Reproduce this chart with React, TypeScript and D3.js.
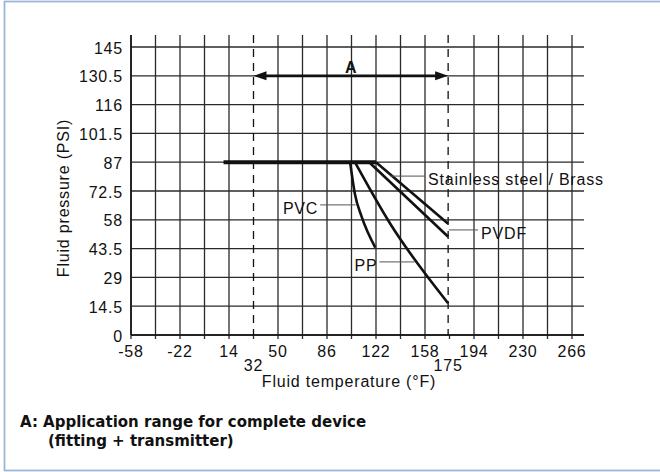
import * as d3 from "d3";

// temperature (°F) / pressure (PSI) values
const tempTicks = [-58, -22, 14, 50, 86, 122, 158, 194, 230, 266];
const rangeTicks = [32, 175];
const gridTemps = [-58, -40, -22, -4, 14, 32, 50, 68, 86, 104, 122, 140, 158, 176, 194, 212, 230, 248, 266];
const pressureTicks = [0, 14.5, 29, 43.5, 58, 72.5, 87, 101.5, 116, 130.5, 145];

interface Pt {
  t: number;
  p: number;
}

const maxPressure: Pt[] = [{ t: 10, p: 87 }, { t: 122, p: 87 }];
const pvc: Pt[] = [{ t: 103, p: 87 }, { t: 106.5, p: 71 }, { t: 111.5, p: 59.5 }, { t: 121.5, p: 44 }];
const pp: Pt[] = [{ t: 106.5, p: 87 }, { t: 132, p: 56.5 }, { t: 175, p: 16 }];
const steel: Pt[] = [{ t: 122, p: 87 }, { t: 175, p: 56 }];
const pvdf: Pt[] = [{ t: 117, p: 87 }, { t: 175, p: 49.5 }];

// label leaders: [from temp, to temp, at pressure]
const labels = [
  { text: "PVC", t0: 81, t1: 107, p: 65.5, anchor: "end" },
  { text: "PP", t0: 124.5, t1: 150.5, p: 36.8, anchor: "end" },
  { text: "Stainless steel / Brass", t0: 132.5, t1: 158, p: 80, anchor: "start" },
  { text: "PVDF", t0: 175.5, t1: 197, p: 52.9, anchor: "start" },
];

const rangePressure = 130.5;

export default function App() {
  const width = 660;
  const height = 472;
  const x = d3.scaleLinear().domain([-58, 266]).range([131, 572]);
  const y = d3.scaleLinear().domain([0, 145]).range([335, 47]);
  const top = 35;
  const right = 584;

  const line = d3
    .line<Pt>()
    .x((d) => x(d.t))
    .y((d) => y(d.p))
    .curve(d3.curveMonotoneX);

  const font = "'Liberation Sans', Arial, sans-serif";
  const textStyle = { fontFamily: font, fontSize: 16, letterSpacing: 0.8, fill: "#111" };
  const gridColor = "#2a2a2a";

  return (
    <svg
      width={width}
      height={height}
      style={{ position: "absolute", left: 0, top: 0, display: "block", background: "#fff" }}
    >
      <rect x={4.5} y={1.5} width={700} height={469} fill="#fff" stroke="#9fb5d6" strokeWidth={1.8} />

      {/* grid */}
      {gridTemps
        .filter((t) => !rangeTicks.some((r) => Math.abs(r - t) < 2))
        .map((t) => (
          <line key={"v" + t} x1={x(t)} x2={x(t)} y1={top} y2={y(0)} stroke={gridColor} strokeWidth={1.3} />
        ))}
      {pressureTicks.map((p) => (
        <line key={"h" + p} x1={x(-58)} x2={right} y1={y(p)} y2={y(p)} stroke={gridColor} strokeWidth={1.3} />
      ))}
      {gridTemps.map((t) => (
        <line key={"k" + t} x1={x(t)} x2={x(t)} y1={y(0)} y2={y(0) + 4} stroke={gridColor} strokeWidth={1.3} />
      ))}
      <line x1={x(-58)} x2={right} y1={y(0)} y2={y(0)} stroke="#111" strokeWidth={1.6} />
      <line x1={x(-58)} x2={x(-58)} y1={top} y2={y(0)} stroke="#111" strokeWidth={1.6} />

      {/* application range */}
      {rangeTicks.map((t) => (
        <line
          key={"d" + t}
          x1={x(t)}
          x2={x(t)}
          y1={top}
          y2={y(0)}
          stroke="#111"
          strokeWidth={1.3}
          strokeDasharray="8,6"
        />
      ))}
      <line
        x1={x(rangeTicks[0]) + 10}
        x2={x(rangeTicks[1]) - 10}
        y1={y(rangePressure)}
        y2={y(rangePressure)}
        stroke="#111"
        strokeWidth={2.8}
      />
      <path d={`M${x(rangeTicks[0])},${y(rangePressure)}l13,-4.5l0,9z`} fill="#111" />
      <path d={`M${x(rangeTicks[1])},${y(rangePressure)}l-13,-4.5l0,9z`} fill="#111" />
      <text
        x={(x(rangeTicks[0]) + x(rangeTicks[1])) / 2}
        y={y(rangePressure) - 3}
        textAnchor="middle"
        style={{ fontFamily: font, fontSize: 16, fontWeight: "bold", fill: "#111" }}
      >
        A
      </text>

      {/* curves */}
      <path d={line(maxPressure) ?? ""} fill="none" stroke="#111" strokeWidth={4} />
      {[pvc, pp, steel, pvdf].map((s, i) => (
        <path key={"s" + i} d={line(s) ?? ""} fill="none" stroke="#111" strokeWidth={2.6} />
      ))}

      {/* labels */}
      {labels.map((l) => (
        <g key={l.text}>
          <line x1={x(l.t0)} x2={x(l.t1)} y1={y(l.p)} y2={y(l.p)} stroke="#555" strokeWidth={1} />
          <text
            x={l.anchor === "end" ? x(l.t0) - 2 : x(l.t1) + 3}
            y={y(l.p) + 9}
            textAnchor={l.anchor}
            style={textStyle}
          >
            {l.text}
          </text>
        </g>
      ))}

      {/* axis labels */}
      {pressureTicks.map((p) => (
        <text key={"yl" + p} x={123} y={y(p) + 6.5} textAnchor="end" style={textStyle}>
          {p}
        </text>
      ))}
      {tempTicks.map((t) => (
        <text key={"xl" + t} x={x(t)} y={y(0) + 22} textAnchor="middle" style={textStyle}>
          {t}
        </text>
      ))}
      {rangeTicks.map((t) => (
        <text key={"rl" + t} x={x(t)} y={y(0) + 36} textAnchor="middle" style={textStyle}>
          {t}
        </text>
      ))}
      <text x={349} y={387} textAnchor="middle" style={textStyle}>
        Fluid temperature (°F)
      </text>
      <text
        transform={`translate(69,${(top + y(0)) / 2 + 13}) rotate(-90)`}
        textAnchor="middle"
        style={textStyle}
      >
        Fluid pressure (PSI)
      </text>

      {/* footnote */}
      <text style={{ fontFamily: "'DejaVu Sans', sans-serif", fontSize: 15, fontWeight: "bold", fill: "#111" }}>
        <tspan x={20} y={427}>
          A: Application range for complete device
        </tspan>
        <tspan x={48} y={446}>
          (fitting + transmitter)
        </tspan>
      </text>
    </svg>
  );
}
